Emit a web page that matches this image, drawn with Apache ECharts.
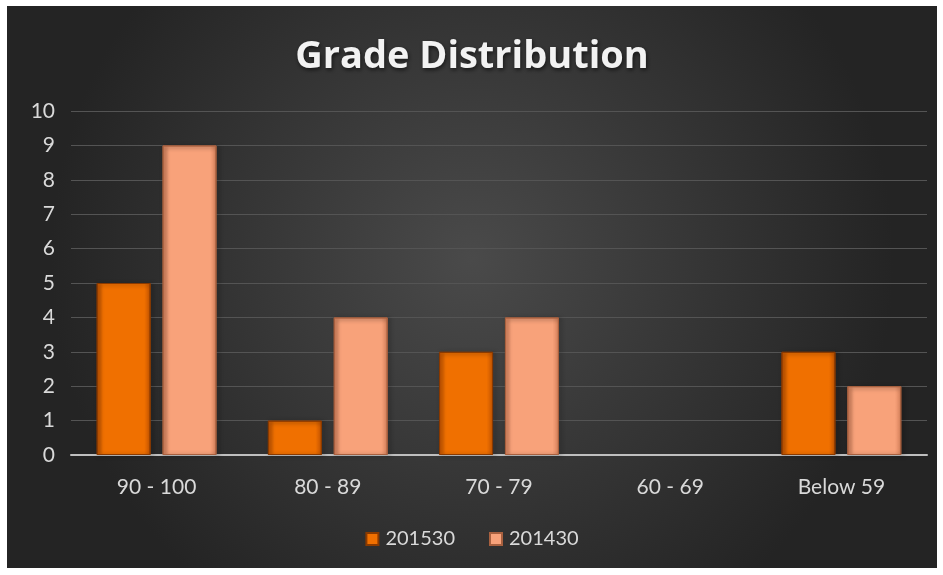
<!DOCTYPE html>
<html><head><meta charset="utf-8">
<script src="https://cdn.jsdelivr.net/npm/echarts@6/dist/echarts.min.js"></script>
<style>
html,body{margin:0;padding:0;background:#fff;width:943px;height:575px;overflow:hidden}
#c{position:absolute;left:7px;top:6px;width:930px;height:562px}
</style></head>
<body><div id="c"></div>
<script>
const categories = ['90 - 100', '80 - 89', '70 - 79', '60 - 69', 'Below 59'];
const series201530 = [5, 1, 3, 0, 3];
const series201430 = [9, 4, 4, 0, 2];
const seriesNames = ['201530', '201430'];

function grad(a, b, c) {
  return new echarts.graphic.LinearGradient(0, 0, 1, 0, [
    {offset: 0, color: a}, {offset: 0.12, color: b}, {offset: 0.88, color: b}, {offset: 1, color: c}
  ]);
}
function prep(arr) {
  return arr.map(v => v === 0 ? {value: 0, itemStyle: {opacity: 0}} : v);
}
const FONT = 'Lato';
const chart = echarts.init(document.getElementById('c'));
chart.setOption({
  backgroundColor: new echarts.graphic.RadialGradient(0.5, 0.45, 0.75, [
    {offset: 0, color: '#4a4a4a'}, {offset: 1, color: '#242424'}
  ]),
  title: {
    text: 'Grade Distribution', left: 'center', top: 27,
    textStyle: {color: '#f2f2f2', fontSize: 38, fontWeight: 'bold', fontFamily: 'Open Sans',
      textShadowColor: 'rgba(0,0,0,0.6)', textShadowBlur: 4, textShadowOffsetX: 1, textShadowOffsetY: 2}
  },
  legend: {
    bottom: 14, left: 'center', itemWidth: 12, itemHeight: 12, itemGap: 34,
    icon: 'rect',
    textStyle: {color: '#d9d9d9', fontSize: 20, fontFamily: FONT, padding: [0, 0, 0, 2]},
    data: seriesNames
  },
  grid: {left: 64, right: 10, top: 105, bottom: 113},
  xAxis: {
    type: 'category', data: categories,
    axisLine: {lineStyle: {color: '#bfbfbf', width: 2}},
    axisTick: {show: false},
    axisLabel: {color: '#d9d9d9', fontSize: 21, margin: 22, fontFamily: FONT}
  },
  yAxis: {
    type: 'value', min: 0, max: 10, interval: 1,
    axisLine: {show: false}, axisTick: {show: false},
    axisLabel: {color: '#d9d9d9', fontSize: 21, margin: 16, fontFamily: FONT},
    splitLine: {lineStyle: {color: '#545454', width: 1}}
  },
  series: [
    {name: seriesNames[0], type: 'bar', data: prep(series201530), barWidth: 54, barGap: '22%',
      itemStyle: {color: grad('#c45400', '#f07000', '#c45400'), borderColor: '#8a3a00', borderWidth: 1,
        shadowColor: 'rgba(0,0,0,0.5)', shadowBlur: 4, shadowOffsetX: 2, shadowOffsetY: 1}},
    {name: seriesNames[1], type: 'bar', data: prep(series201430), barWidth: 54,
      itemStyle: {color: grad('#d9825c', '#f8a27a', '#d9825c'), borderColor: '#a8603f', borderWidth: 1,
        shadowColor: 'rgba(0,0,0,0.5)', shadowBlur: 4, shadowOffsetX: 2, shadowOffsetY: 1}}
  ]
});
</script></body></html>
